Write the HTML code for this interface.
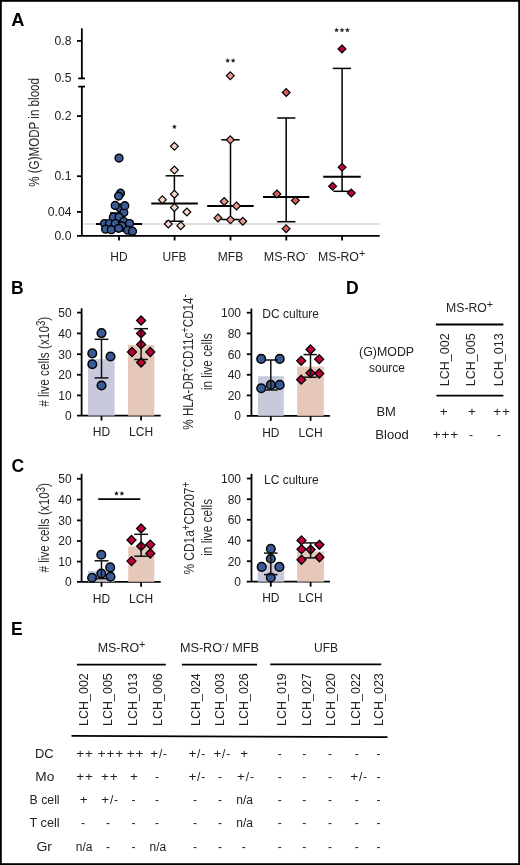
<!DOCTYPE html>
<html><head><meta charset="utf-8"><style>
html,body{margin:0;padding:0;background:#fff;}
body{width:520px;height:865px;overflow:hidden;}
svg{display:block;font-family:"Liberation Sans", sans-serif;will-change:transform;}
</style></head><body>
<svg width="520" height="865" viewBox="0 0 520 865">
<rect x="0" y="0" width="520" height="865" fill="#fff"/>
<text x="11.2" y="25.9" font-size="17.5" text-anchor="start" font-weight="bold" fill="#000"  textLength="13.2" lengthAdjust="spacingAndGlyphs">A</text>
<line x1="81.85" y1="28.3" x2="81.85" y2="78.4" stroke="#000" stroke-width="1.8" stroke-linecap="butt"/>
<line x1="81.85" y1="86.6" x2="81.85" y2="235.85" stroke="#000" stroke-width="1.8" stroke-linecap="butt"/>
<line x1="78.2" y1="78.4" x2="85" y2="78.4" stroke="#000" stroke-width="1.8" stroke-linecap="butt"/>
<line x1="78.2" y1="86.6" x2="85" y2="86.6" stroke="#000" stroke-width="1.8" stroke-linecap="butt"/>
<line x1="77" y1="40.9" x2="81.85" y2="40.9" stroke="#000" stroke-width="1.8" stroke-linecap="butt"/>
<line x1="77" y1="116.1" x2="81.85" y2="116.1" stroke="#000" stroke-width="1.8" stroke-linecap="butt"/>
<line x1="77" y1="176.2" x2="81.85" y2="176.2" stroke="#000" stroke-width="1.8" stroke-linecap="butt"/>
<line x1="77" y1="211.9" x2="81.85" y2="211.9" stroke="#000" stroke-width="1.8" stroke-linecap="butt"/>
<line x1="77" y1="235.85" x2="379.7" y2="235.85" stroke="#000" stroke-width="1.8" stroke-linecap="butt"/>
<line x1="119" y1="235.85" x2="119" y2="240.5" stroke="#000" stroke-width="1.8" stroke-linecap="butt"/>
<line x1="174.6" y1="235.85" x2="174.6" y2="240.5" stroke="#000" stroke-width="1.8" stroke-linecap="butt"/>
<line x1="230.5" y1="235.85" x2="230.5" y2="240.5" stroke="#000" stroke-width="1.8" stroke-linecap="butt"/>
<line x1="286.3" y1="235.85" x2="286.3" y2="240.5" stroke="#000" stroke-width="1.8" stroke-linecap="butt"/>
<line x1="342.1" y1="235.85" x2="342.1" y2="240.5" stroke="#000" stroke-width="1.8" stroke-linecap="butt"/>
<text x="71.5" y="44.8" font-size="12.2" text-anchor="end" font-weight="normal" fill="#222" >0.8</text>
<text x="71.5" y="82.3" font-size="12.2" text-anchor="end" font-weight="normal" fill="#222" >0.5</text>
<text x="71.5" y="120.2" font-size="12.2" text-anchor="end" font-weight="normal" fill="#222" >0.2</text>
<text x="71.5" y="180.3" font-size="12.2" text-anchor="end" font-weight="normal" fill="#222" >0.1</text>
<text x="71.5" y="216.0" font-size="12.2" text-anchor="end" font-weight="normal" fill="#222" >0.04</text>
<text x="71.5" y="239.9" font-size="12.2" text-anchor="end" font-weight="normal" fill="#222" >0.0</text>
<text transform="translate(39,132.4) rotate(-90)" x="0" y="0" font-size="15.5" text-anchor="middle" fill="#2a2a2a" textLength="108.8" lengthAdjust="spacingAndGlyphs">% (G)MODP in blood</text>
<text x="119" y="261" font-size="12" text-anchor="middle" font-weight="normal" fill="#222" >HD</text>
<text x="174.6" y="261" font-size="12" text-anchor="middle" font-weight="normal" fill="#222" >UFB</text>
<text x="230.5" y="261" font-size="12" text-anchor="middle" font-weight="normal" fill="#222" >MFB</text>
<text x="263.8" y="261" font-size="12" text-anchor="start" font-weight="normal" fill="#222"  textLength="44.5" lengthAdjust="spacingAndGlyphs">MS-RO<tspan font-size="8.5" baseline-shift="5">-</tspan></text>
<text x="318" y="261" font-size="12" text-anchor="start" font-weight="normal" fill="#222"  textLength="47.2" lengthAdjust="spacingAndGlyphs">MS-RO<tspan font-size="10.5" baseline-shift="4.3">+</tspan></text>
<line x1="83.8" y1="223.95" x2="379.7" y2="223.95" stroke="#dedede" stroke-width="2" stroke-linecap="butt"/>
<line x1="119" y1="213" x2="119" y2="231" stroke="#000" stroke-width="1.8" stroke-linecap="butt"/>
<line x1="110" y1="213" x2="128" y2="213" stroke="#000" stroke-width="1.6" stroke-linecap="butt"/>
<line x1="110" y1="231" x2="128" y2="231" stroke="#000" stroke-width="1.6" stroke-linecap="butt"/>
<line x1="96" y1="223.9" x2="142.1" y2="223.9" stroke="#000" stroke-width="2" stroke-linecap="butt"/>
<circle cx="119" cy="158.1" r="3.9" fill="#3a5a96" stroke="#000" stroke-width="1.45"/>
<circle cx="120.5" cy="193.2" r="3.9" fill="#3a5a96" stroke="#000" stroke-width="1.45"/>
<circle cx="118.6" cy="196.1" r="3.9" fill="#3a5a96" stroke="#000" stroke-width="1.45"/>
<circle cx="119.8" cy="207.8" r="3.9" fill="#3a5a96" stroke="#000" stroke-width="1.45"/>
<circle cx="123.8" cy="212.4" r="3.9" fill="#3a5a96" stroke="#000" stroke-width="1.45"/>
<circle cx="115.2" cy="205.4" r="3.9" fill="#3a5a96" stroke="#000" stroke-width="1.45"/>
<circle cx="124.8" cy="205.7" r="3.9" fill="#3a5a96" stroke="#000" stroke-width="1.45"/>
<circle cx="113.3" cy="217.2" r="3.9" fill="#3a5a96" stroke="#000" stroke-width="1.45"/>
<circle cx="119" cy="217.2" r="3.9" fill="#3a5a96" stroke="#000" stroke-width="1.45"/>
<circle cx="123.8" cy="221.5" r="3.9" fill="#3a5a96" stroke="#000" stroke-width="1.45"/>
<circle cx="104.6" cy="223.5" r="3.9" fill="#3a5a96" stroke="#000" stroke-width="1.45"/>
<circle cx="109.4" cy="223.5" r="3.9" fill="#3a5a96" stroke="#000" stroke-width="1.45"/>
<circle cx="115.2" cy="223.5" r="3.9" fill="#3a5a96" stroke="#000" stroke-width="1.45"/>
<circle cx="129.6" cy="223.5" r="3.9" fill="#3a5a96" stroke="#000" stroke-width="1.45"/>
<circle cx="121.9" cy="225.9" r="3.9" fill="#3a5a96" stroke="#000" stroke-width="1.45"/>
<circle cx="105.6" cy="229.2" r="3.9" fill="#3a5a96" stroke="#000" stroke-width="1.45"/>
<circle cx="111.3" cy="229.7" r="3.9" fill="#3a5a96" stroke="#000" stroke-width="1.45"/>
<circle cx="118.6" cy="228.3" r="3.9" fill="#3a5a96" stroke="#000" stroke-width="1.45"/>
<circle cx="127.7" cy="230.2" r="3.9" fill="#3a5a96" stroke="#000" stroke-width="1.45"/>
<circle cx="132.5" cy="231.2" r="3.9" fill="#3a5a96" stroke="#000" stroke-width="1.45"/>
<line x1="174.4" y1="175.8" x2="174.4" y2="221.25" stroke="#000" stroke-width="1.5" stroke-linecap="butt"/>
<line x1="165.6" y1="175.8" x2="183.6" y2="175.8" stroke="#000" stroke-width="1.5" stroke-linecap="butt"/>
<line x1="165.6" y1="221.25" x2="183.6" y2="221.25" stroke="#000" stroke-width="1.5" stroke-linecap="butt"/>
<line x1="151.25" y1="203.5" x2="197.8" y2="203.5" stroke="#000" stroke-width="2" stroke-linecap="butt"/>
<polygon points="174.4,142.4 178.3,146.3 174.4,150.20000000000002 170.5,146.3" fill="#f6d5ca" stroke="#000" stroke-width="1.2" stroke-linejoin="miter"/>
<polygon points="174.4,166.2 178.3,170.1 174.4,174.0 170.5,170.1" fill="#f6d5ca" stroke="#000" stroke-width="1.2" stroke-linejoin="miter"/>
<polygon points="174.4,190.29999999999998 178.3,194.2 174.4,198.1 170.5,194.2" fill="#f6d5ca" stroke="#000" stroke-width="1.2" stroke-linejoin="miter"/>
<polygon points="162.4,195.79999999999998 166.3,199.7 162.4,203.6 158.5,199.7" fill="#f6d5ca" stroke="#000" stroke-width="1.2" stroke-linejoin="miter"/>
<polygon points="174.4,203.5 178.3,207.4 174.4,211.3 170.5,207.4" fill="#f6d5ca" stroke="#000" stroke-width="1.2" stroke-linejoin="miter"/>
<polygon points="186.9,208.1 190.8,212 186.9,215.9 183.0,212" fill="#f6d5ca" stroke="#000" stroke-width="1.2" stroke-linejoin="miter"/>
<polygon points="168.3,220.1 172.20000000000002,224 168.3,227.9 164.4,224" fill="#f6d5ca" stroke="#000" stroke-width="1.2" stroke-linejoin="miter"/>
<polygon points="180.8,221.79999999999998 184.70000000000002,225.7 180.8,229.6 176.9,225.7" fill="#f6d5ca" stroke="#000" stroke-width="1.2" stroke-linejoin="miter"/>
<polygon points="174.40,124.20 175.09,125.85 176.87,126.00 175.51,127.16 175.93,128.90 174.40,127.97 172.87,128.90 173.29,127.16 171.93,126.00 173.71,125.85" fill="#222"/>
<line x1="230.5" y1="139.8" x2="230.5" y2="219.5" stroke="#000" stroke-width="1.5" stroke-linecap="butt"/>
<line x1="221.25" y1="139.8" x2="239.6" y2="139.8" stroke="#000" stroke-width="1.5" stroke-linecap="butt"/>
<line x1="221.3" y1="219.5" x2="239.6" y2="219.5" stroke="#000" stroke-width="1.5" stroke-linecap="butt"/>
<line x1="207.2" y1="205.9" x2="253.7" y2="205.9" stroke="#000" stroke-width="2" stroke-linecap="butt"/>
<polygon points="230.3,71.89999999999999 234.20000000000002,75.8 230.3,79.7 226.4,75.8" fill="#e59a8c" stroke="#000" stroke-width="1.2" stroke-linejoin="miter"/>
<polygon points="230.3,135.9 234.20000000000002,139.8 230.3,143.70000000000002 226.4,139.8" fill="#e59a8c" stroke="#000" stroke-width="1.2" stroke-linejoin="miter"/>
<polygon points="224.2,197.6 228.1,201.5 224.2,205.4 220.29999999999998,201.5" fill="#e59a8c" stroke="#000" stroke-width="1.2" stroke-linejoin="miter"/>
<polygon points="236.5,202.0 240.4,205.9 236.5,209.8 232.6,205.9" fill="#e59a8c" stroke="#000" stroke-width="1.2" stroke-linejoin="miter"/>
<polygon points="218,214.0 221.9,217.9 218,221.8 214.1,217.9" fill="#e59a8c" stroke="#000" stroke-width="1.2" stroke-linejoin="miter"/>
<polygon points="230.5,215.9 234.4,219.8 230.5,223.70000000000002 226.6,219.8" fill="#e59a8c" stroke="#000" stroke-width="1.2" stroke-linejoin="miter"/>
<polygon points="242.8,217.35 246.70000000000002,221.25 242.8,225.15 238.9,221.25" fill="#e59a8c" stroke="#000" stroke-width="1.2" stroke-linejoin="miter"/>
<polygon points="227.70,58.00 228.39,59.65 230.17,59.80 228.81,60.96 229.23,62.70 227.70,61.77 226.17,62.70 226.59,60.96 225.23,59.80 227.01,59.65" fill="#222"/>
<polygon points="233.10,58.00 233.79,59.65 235.57,59.80 234.21,60.96 234.63,62.70 233.10,61.77 231.57,62.70 231.99,60.96 230.63,59.80 232.41,59.65" fill="#222"/>
<line x1="286.2" y1="118" x2="286.2" y2="221.7" stroke="#000" stroke-width="1.5" stroke-linecap="butt"/>
<line x1="277.2" y1="118" x2="295.4" y2="118" stroke="#000" stroke-width="1.5" stroke-linecap="butt"/>
<line x1="277.2" y1="221.7" x2="295.4" y2="221.7" stroke="#000" stroke-width="1.5" stroke-linecap="butt"/>
<line x1="263" y1="197" x2="309.3" y2="197" stroke="#000" stroke-width="2" stroke-linecap="butt"/>
<polygon points="286.2,88.6 290.09999999999997,92.5 286.2,96.4 282.3,92.5" fill="#d4605e" stroke="#000" stroke-width="1.2" stroke-linejoin="miter"/>
<polygon points="276.9,190.0 280.79999999999995,193.9 276.9,197.8 273.0,193.9" fill="#d4605e" stroke="#000" stroke-width="1.2" stroke-linejoin="miter"/>
<polygon points="295.4,196.5 299.29999999999995,200.4 295.4,204.3 291.5,200.4" fill="#d4605e" stroke="#000" stroke-width="1.2" stroke-linejoin="miter"/>
<polygon points="286.1,224.79999999999998 290.0,228.7 286.1,232.6 282.20000000000005,228.7" fill="#d4605e" stroke="#000" stroke-width="1.2" stroke-linejoin="miter"/>
<line x1="342.1" y1="68.4" x2="342.1" y2="191.3" stroke="#000" stroke-width="1.5" stroke-linecap="butt"/>
<line x1="332.8" y1="68.4" x2="351" y2="68.4" stroke="#000" stroke-width="1.5" stroke-linecap="butt"/>
<line x1="333.3" y1="191.3" x2="351" y2="191.3" stroke="#000" stroke-width="1.5" stroke-linecap="butt"/>
<line x1="323.2" y1="176.7" x2="360.7" y2="176.7" stroke="#000" stroke-width="2" stroke-linecap="butt"/>
<polygon points="342,45.0 345.9,48.9 342,52.8 338.1,48.9" fill="#c0003a" stroke="#000" stroke-width="1.2" stroke-linejoin="miter"/>
<polygon points="342.1,163.4 346.0,167.3 342.1,171.20000000000002 338.20000000000005,167.3" fill="#c0003a" stroke="#000" stroke-width="1.2" stroke-linejoin="miter"/>
<polygon points="332.6,182.35 336.5,186.25 332.6,190.15 328.70000000000005,186.25" fill="#c0003a" stroke="#000" stroke-width="1.2" stroke-linejoin="miter"/>
<polygon points="351.3,189.1 355.2,193 351.3,196.9 347.40000000000003,193" fill="#c0003a" stroke="#000" stroke-width="1.2" stroke-linejoin="miter"/>
<polygon points="336.60,27.50 337.29,29.15 339.07,29.30 337.71,30.46 338.13,32.20 336.60,31.27 335.07,32.20 335.49,30.46 334.13,29.30 335.91,29.15" fill="#222"/>
<polygon points="342.00,27.50 342.69,29.15 344.47,29.30 343.11,30.46 343.53,32.20 342.00,31.27 340.47,32.20 340.89,30.46 339.53,29.30 341.31,29.15" fill="#222"/>
<polygon points="347.40,27.50 348.09,29.15 349.87,29.30 348.51,30.46 348.93,32.20 347.40,31.27 345.87,32.20 346.29,30.46 344.93,29.30 346.71,29.15" fill="#222"/>
<text x="11" y="293.9" font-size="17.5" text-anchor="start" font-weight="bold" fill="#000" >B</text>
<text x="11.5" y="472.3" font-size="17.5" text-anchor="start" font-weight="bold" fill="#000" >C</text>
<text x="346" y="293.7" font-size="17.5" text-anchor="start" font-weight="bold" fill="#000" >D</text>
<text x="11" y="635.2" font-size="17.5" text-anchor="start" font-weight="bold" fill="#000" >E</text>
<line x1="81.6" y1="308.3" x2="81.6" y2="415.6" stroke="#000" stroke-width="1.8" stroke-linecap="butt"/>
<line x1="77" y1="415.6" x2="160.7" y2="415.6" stroke="#000" stroke-width="1.8" stroke-linecap="butt"/>
<line x1="77.0" y1="312.6" x2="81.6" y2="312.6" stroke="#000" stroke-width="1.8" stroke-linecap="butt"/>
<text x="71.7" y="316.90000000000003" font-size="12" text-anchor="end" font-weight="normal" fill="#222" >50</text>
<line x1="77.0" y1="333.4" x2="81.6" y2="333.4" stroke="#000" stroke-width="1.8" stroke-linecap="butt"/>
<text x="71.7" y="337.7" font-size="12" text-anchor="end" font-weight="normal" fill="#222" >40</text>
<line x1="77.0" y1="354.2" x2="81.6" y2="354.2" stroke="#000" stroke-width="1.8" stroke-linecap="butt"/>
<text x="71.7" y="358.5" font-size="12" text-anchor="end" font-weight="normal" fill="#222" >30</text>
<line x1="77.0" y1="374.8" x2="81.6" y2="374.8" stroke="#000" stroke-width="1.8" stroke-linecap="butt"/>
<text x="71.7" y="379.1" font-size="12" text-anchor="end" font-weight="normal" fill="#222" >20</text>
<line x1="77.0" y1="395.4" x2="81.6" y2="395.4" stroke="#000" stroke-width="1.8" stroke-linecap="butt"/>
<text x="71.7" y="399.7" font-size="12" text-anchor="end" font-weight="normal" fill="#222" >10</text>
<text x="71.7" y="419.90000000000003" font-size="12" text-anchor="end" font-weight="normal" fill="#222" >0</text>
<line x1="101.5" y1="415.6" x2="101.5" y2="420.6" stroke="#000" stroke-width="1.8" stroke-linecap="butt"/>
<line x1="141.1" y1="415.6" x2="141.1" y2="420.6" stroke="#000" stroke-width="1.8" stroke-linecap="butt"/>
<text x="101.5" y="436.3" font-size="12" text-anchor="middle" font-weight="normal" fill="#222" >HD</text>
<text x="141.1" y="436.3" font-size="12" text-anchor="middle" font-weight="normal" fill="#222" >LCH</text>
<rect x="88" y="359.2" width="26.599999999999994" height="56.400000000000034" fill="#c8cadc"/>
<rect x="128" y="345" width="26.30000000000001" height="70.60000000000002" fill="#e6c8bb"/>
<circle cx="101.5" cy="333.1" r="4.3" fill="#3a5a96" stroke="#000" stroke-width="1.5"/>
<circle cx="92.3" cy="353.4" r="4.3" fill="#3a5a96" stroke="#000" stroke-width="1.5"/>
<circle cx="110.5" cy="356.5" r="4.3" fill="#3a5a96" stroke="#000" stroke-width="1.5"/>
<circle cx="92.3" cy="364.3" r="4.3" fill="#3a5a96" stroke="#000" stroke-width="1.5"/>
<circle cx="101.5" cy="385.5" r="4.3" fill="#3a5a96" stroke="#000" stroke-width="1.5"/>
<polygon points="141.1,316.0 145.6,320.5 141.1,325.0 136.6,320.5" fill="#c0003a" stroke="#000" stroke-width="1.3" stroke-linejoin="miter"/>
<polygon points="141.1,328.9 145.6,333.4 141.1,337.9 136.6,333.4" fill="#c0003a" stroke="#000" stroke-width="1.3" stroke-linejoin="miter"/>
<polygon points="141.1,339.9 145.6,344.4 141.1,348.9 136.6,344.4" fill="#c0003a" stroke="#000" stroke-width="1.3" stroke-linejoin="miter"/>
<polygon points="132,347.5 136.5,352 132,356.5 127.5,352" fill="#c0003a" stroke="#000" stroke-width="1.3" stroke-linejoin="miter"/>
<polygon points="150.3,347.5 154.8,352 150.3,356.5 145.8,352" fill="#c0003a" stroke="#000" stroke-width="1.3" stroke-linejoin="miter"/>
<polygon points="141.1,358.0 145.6,362.5 141.1,367.0 136.6,362.5" fill="#c0003a" stroke="#000" stroke-width="1.3" stroke-linejoin="miter"/>
<line x1="101.5" y1="339.3" x2="101.5" y2="377.9" stroke="#111" stroke-width="1.5" stroke-linecap="butt"/>
<line x1="94.6" y1="339.3" x2="108.4" y2="339.3" stroke="#111" stroke-width="1.5" stroke-linecap="butt"/>
<line x1="94.6" y1="377.9" x2="108.4" y2="377.9" stroke="#111" stroke-width="1.5" stroke-linecap="butt"/>
<line x1="141.1" y1="328.7" x2="141.1" y2="359.5" stroke="#111" stroke-width="1.5" stroke-linecap="butt"/>
<line x1="134.2" y1="328.7" x2="148" y2="328.7" stroke="#111" stroke-width="1.5" stroke-linecap="butt"/>
<line x1="134.2" y1="359.5" x2="148" y2="359.5" stroke="#111" stroke-width="1.5" stroke-linecap="butt"/>
<text transform="translate(49.2,361.8) rotate(-90)" x="0" y="0" font-size="15.5" text-anchor="middle" fill="#2a2a2a" textLength="90" lengthAdjust="spacingAndGlyphs"># live cells (x10<tspan font-size="12.5" baseline-shift="4.5">3</tspan>)</text>
<line x1="251.4" y1="308.5" x2="251.4" y2="415.8" stroke="#000" stroke-width="1.8" stroke-linecap="butt"/>
<line x1="246.7" y1="415.8" x2="330" y2="415.8" stroke="#000" stroke-width="1.8" stroke-linecap="butt"/>
<line x1="246.8" y1="312.7" x2="251.4" y2="312.7" stroke="#000" stroke-width="1.8" stroke-linecap="butt"/>
<text x="241" y="317.0" font-size="12" text-anchor="end" font-weight="normal" fill="#222" >100</text>
<line x1="246.8" y1="333.4" x2="251.4" y2="333.4" stroke="#000" stroke-width="1.8" stroke-linecap="butt"/>
<text x="241" y="337.7" font-size="12" text-anchor="end" font-weight="normal" fill="#222" >80</text>
<line x1="246.8" y1="354.2" x2="251.4" y2="354.2" stroke="#000" stroke-width="1.8" stroke-linecap="butt"/>
<text x="241" y="358.5" font-size="12" text-anchor="end" font-weight="normal" fill="#222" >60</text>
<line x1="246.8" y1="374.8" x2="251.4" y2="374.8" stroke="#000" stroke-width="1.8" stroke-linecap="butt"/>
<text x="241" y="379.1" font-size="12" text-anchor="end" font-weight="normal" fill="#222" >40</text>
<line x1="246.8" y1="395.4" x2="251.4" y2="395.4" stroke="#000" stroke-width="1.8" stroke-linecap="butt"/>
<text x="241" y="399.7" font-size="12" text-anchor="end" font-weight="normal" fill="#222" >20</text>
<text x="241" y="420.1" font-size="12" text-anchor="end" font-weight="normal" fill="#222" >0</text>
<line x1="270.8" y1="415.8" x2="270.8" y2="420.8" stroke="#000" stroke-width="1.8" stroke-linecap="butt"/>
<line x1="310.6" y1="415.8" x2="310.6" y2="420.8" stroke="#000" stroke-width="1.8" stroke-linecap="butt"/>
<text x="270.8" y="436.5" font-size="12" text-anchor="middle" font-weight="normal" fill="#222" >HD</text>
<text x="310.6" y="436.5" font-size="12" text-anchor="middle" font-weight="normal" fill="#222" >LCH</text>
<rect x="258" y="376.2" width="25.80000000000001" height="39.60000000000002" fill="#c8cadc"/>
<rect x="297.2" y="366.6" width="26.600000000000023" height="49.19999999999999" fill="#e6c8bb"/>
<circle cx="261.2" cy="358.9" r="4.3" fill="#3a5a96" stroke="#000" stroke-width="1.5"/>
<circle cx="279.7" cy="358.9" r="4.3" fill="#3a5a96" stroke="#000" stroke-width="1.5"/>
<circle cx="261.2" cy="388.2" r="4.3" fill="#3a5a96" stroke="#000" stroke-width="1.5"/>
<circle cx="270.8" cy="384.9" r="4.3" fill="#3a5a96" stroke="#000" stroke-width="1.5"/>
<circle cx="279.7" cy="384.9" r="4.3" fill="#3a5a96" stroke="#000" stroke-width="1.5"/>
<polygon points="310.5,345.0 315.0,349.5 310.5,354.0 306.0,349.5" fill="#c0003a" stroke="#000" stroke-width="1.3" stroke-linejoin="miter"/>
<polygon points="301.2,356.3 305.7,360.8 301.2,365.3 296.7,360.8" fill="#c0003a" stroke="#000" stroke-width="1.3" stroke-linejoin="miter"/>
<polygon points="319.2,354.7 323.7,359.2 319.2,363.7 314.7,359.2" fill="#c0003a" stroke="#000" stroke-width="1.3" stroke-linejoin="miter"/>
<polygon points="310.5,368.6 315.0,373.1 310.5,377.6 306.0,373.1" fill="#c0003a" stroke="#000" stroke-width="1.3" stroke-linejoin="miter"/>
<polygon points="319.2,369.0 323.7,373.5 319.2,378.0 314.7,373.5" fill="#c0003a" stroke="#000" stroke-width="1.3" stroke-linejoin="miter"/>
<polygon points="301.2,375.2 305.7,379.7 301.2,384.2 296.7,379.7" fill="#c0003a" stroke="#000" stroke-width="1.3" stroke-linejoin="miter"/>
<line x1="270.8" y1="360" x2="270.8" y2="390" stroke="#111" stroke-width="1.5" stroke-linecap="butt"/>
<line x1="265.4" y1="360" x2="277.7" y2="360" stroke="#111" stroke-width="1.5" stroke-linecap="butt"/>
<line x1="265.4" y1="390" x2="277.7" y2="390" stroke="#111" stroke-width="1.5" stroke-linecap="butt"/>
<line x1="310.5" y1="354.6" x2="310.5" y2="377.2" stroke="#111" stroke-width="1.5" stroke-linecap="butt"/>
<line x1="303.5" y1="354.6" x2="316.9" y2="354.6" stroke="#111" stroke-width="1.5" stroke-linecap="butt"/>
<line x1="303.5" y1="377.2" x2="316.9" y2="377.2" stroke="#111" stroke-width="1.5" stroke-linecap="butt"/>
<text x="262.3" y="318" font-size="12" text-anchor="start" font-weight="normal" fill="#222" >DC culture</text>
<text transform="translate(193.4,362) rotate(-90)" x="0" y="0" font-size="15.5" text-anchor="middle" fill="#2a2a2a" textLength="135.3" lengthAdjust="spacingAndGlyphs">% HLA-DR<tspan font-size="12.5" baseline-shift="4.5">+</tspan>CD11c<tspan font-size="12.5" baseline-shift="4.5">+</tspan>CD14<tspan font-size="12.5" baseline-shift="4.5">-</tspan></text>
<text transform="translate(211.8,361.75) rotate(-90)" x="0" y="0" font-size="15.5" text-anchor="middle" fill="#2a2a2a" textLength="56.7" lengthAdjust="spacingAndGlyphs">in live cells</text>
<line x1="81.6" y1="473.8" x2="81.6" y2="581.8" stroke="#000" stroke-width="1.8" stroke-linecap="butt"/>
<line x1="77" y1="581.8" x2="160.7" y2="581.8" stroke="#000" stroke-width="1.8" stroke-linecap="butt"/>
<line x1="77.0" y1="478.8" x2="81.6" y2="478.8" stroke="#000" stroke-width="1.8" stroke-linecap="butt"/>
<text x="71.7" y="483.1" font-size="12" text-anchor="end" font-weight="normal" fill="#222" >50</text>
<line x1="77.0" y1="499.59999999999997" x2="81.6" y2="499.59999999999997" stroke="#000" stroke-width="1.8" stroke-linecap="butt"/>
<text x="71.7" y="503.9" font-size="12" text-anchor="end" font-weight="normal" fill="#222" >40</text>
<line x1="77.0" y1="520.4" x2="81.6" y2="520.4" stroke="#000" stroke-width="1.8" stroke-linecap="butt"/>
<text x="71.7" y="524.6999999999999" font-size="12" text-anchor="end" font-weight="normal" fill="#222" >30</text>
<line x1="77.0" y1="541.0" x2="81.6" y2="541.0" stroke="#000" stroke-width="1.8" stroke-linecap="butt"/>
<text x="71.7" y="545.3" font-size="12" text-anchor="end" font-weight="normal" fill="#222" >20</text>
<line x1="77.0" y1="561.5999999999999" x2="81.6" y2="561.5999999999999" stroke="#000" stroke-width="1.8" stroke-linecap="butt"/>
<text x="71.7" y="565.8999999999999" font-size="12" text-anchor="end" font-weight="normal" fill="#222" >10</text>
<text x="71.7" y="586.0999999999999" font-size="12" text-anchor="end" font-weight="normal" fill="#222" >0</text>
<line x1="101.5" y1="581.8" x2="101.5" y2="586.8" stroke="#000" stroke-width="1.8" stroke-linecap="butt"/>
<line x1="141.1" y1="581.8" x2="141.1" y2="586.8" stroke="#000" stroke-width="1.8" stroke-linecap="butt"/>
<text x="101.5" y="602.5" font-size="12" text-anchor="middle" font-weight="normal" fill="#222" >HD</text>
<text x="141.1" y="602.5" font-size="12" text-anchor="middle" font-weight="normal" fill="#222" >LCH</text>
<rect x="88" y="570.8" width="26.599999999999994" height="11.0" fill="#c8cadc"/>
<rect x="128.2" y="546.5" width="26.100000000000023" height="35.299999999999955" fill="#e6c8bb"/>
<circle cx="101.3" cy="554.7" r="4.3" fill="#3a5a96" stroke="#000" stroke-width="1.5"/>
<circle cx="110.2" cy="567.4" r="4.3" fill="#3a5a96" stroke="#000" stroke-width="1.5"/>
<circle cx="101.3" cy="573.6" r="4.3" fill="#3a5a96" stroke="#000" stroke-width="1.5"/>
<circle cx="92.1" cy="577.7" r="4.3" fill="#3a5a96" stroke="#000" stroke-width="1.5"/>
<circle cx="110.5" cy="576.8" r="4.3" fill="#3a5a96" stroke="#000" stroke-width="1.5"/>
<polygon points="141.1,524.0 145.6,528.5 141.1,533.0 136.6,528.5" fill="#c0003a" stroke="#000" stroke-width="1.3" stroke-linejoin="miter"/>
<polygon points="131.5,535.5 136.0,540 131.5,544.5 127.0,540" fill="#c0003a" stroke="#000" stroke-width="1.3" stroke-linejoin="miter"/>
<polygon points="141.1,541.7 145.6,546.2 141.1,550.7 136.6,546.2" fill="#c0003a" stroke="#000" stroke-width="1.3" stroke-linejoin="miter"/>
<polygon points="150.3,540.1 154.8,544.6 150.3,549.1 145.8,544.6" fill="#c0003a" stroke="#000" stroke-width="1.3" stroke-linejoin="miter"/>
<polygon points="150.3,549.0 154.8,553.5 150.3,558.0 145.8,553.5" fill="#c0003a" stroke="#000" stroke-width="1.3" stroke-linejoin="miter"/>
<polygon points="131.5,556.6 136.0,561.1 131.5,565.6 127.0,561.1" fill="#c0003a" stroke="#000" stroke-width="1.3" stroke-linejoin="miter"/>
<line x1="101.5" y1="560.8" x2="101.5" y2="578.6" stroke="#111" stroke-width="1.5" stroke-linecap="butt"/>
<line x1="94.6" y1="560.8" x2="108.5" y2="560.8" stroke="#111" stroke-width="1.5" stroke-linecap="butt"/>
<line x1="94.6" y1="578.6" x2="108.5" y2="578.6" stroke="#111" stroke-width="1.5" stroke-linecap="butt"/>
<line x1="141.1" y1="534.3" x2="141.1" y2="556.2" stroke="#111" stroke-width="1.5" stroke-linecap="butt"/>
<line x1="134.2" y1="534.3" x2="148" y2="534.3" stroke="#111" stroke-width="1.5" stroke-linecap="butt"/>
<line x1="134.2" y1="556.2" x2="148" y2="556.2" stroke="#111" stroke-width="1.5" stroke-linecap="butt"/>
<line x1="98.2" y1="499.2" x2="140.3" y2="499.2" stroke="#000" stroke-width="1.8" stroke-linecap="butt"/>
<polygon points="116.50,490.90 117.19,492.55 118.97,492.70 117.61,493.86 118.03,495.60 116.50,494.67 114.97,495.60 115.39,493.86 114.03,492.70 115.81,492.55" fill="#222"/>
<polygon points="121.90,490.90 122.59,492.55 124.37,492.70 123.01,493.86 123.43,495.60 121.90,494.67 120.37,495.60 120.79,493.86 119.43,492.70 121.21,492.55" fill="#222"/>
<text transform="translate(49.2,527.8) rotate(-90)" x="0" y="0" font-size="15.5" text-anchor="middle" fill="#2a2a2a" textLength="89.5" lengthAdjust="spacingAndGlyphs"># live cells (x10<tspan font-size="12.5" baseline-shift="4.5">3</tspan>)</text>
<line x1="251.5" y1="473.8" x2="251.5" y2="581.7" stroke="#000" stroke-width="1.8" stroke-linecap="butt"/>
<line x1="246.7" y1="581.7" x2="330" y2="581.7" stroke="#000" stroke-width="1.8" stroke-linecap="butt"/>
<line x1="246.9" y1="478.5" x2="251.5" y2="478.5" stroke="#000" stroke-width="1.8" stroke-linecap="butt"/>
<text x="241" y="482.8" font-size="12" text-anchor="end" font-weight="normal" fill="#222" >100</text>
<line x1="246.9" y1="499.2" x2="251.5" y2="499.2" stroke="#000" stroke-width="1.8" stroke-linecap="butt"/>
<text x="241" y="503.5" font-size="12" text-anchor="end" font-weight="normal" fill="#222" >80</text>
<line x1="246.9" y1="519.8" x2="251.5" y2="519.8" stroke="#000" stroke-width="1.8" stroke-linecap="butt"/>
<text x="241" y="524.0999999999999" font-size="12" text-anchor="end" font-weight="normal" fill="#222" >60</text>
<line x1="246.9" y1="540.6" x2="251.5" y2="540.6" stroke="#000" stroke-width="1.8" stroke-linecap="butt"/>
<text x="241" y="544.9" font-size="12" text-anchor="end" font-weight="normal" fill="#222" >40</text>
<line x1="246.9" y1="561.2" x2="251.5" y2="561.2" stroke="#000" stroke-width="1.8" stroke-linecap="butt"/>
<text x="241" y="565.5" font-size="12" text-anchor="end" font-weight="normal" fill="#222" >20</text>
<text x="241" y="586.0" font-size="12" text-anchor="end" font-weight="normal" fill="#222" >0</text>
<line x1="270.8" y1="581.7" x2="270.8" y2="586.7" stroke="#000" stroke-width="1.8" stroke-linecap="butt"/>
<line x1="310.6" y1="581.7" x2="310.6" y2="586.7" stroke="#000" stroke-width="1.8" stroke-linecap="butt"/>
<text x="270.8" y="602.4000000000001" font-size="12" text-anchor="middle" font-weight="normal" fill="#222" >HD</text>
<text x="310.6" y="602.4000000000001" font-size="12" text-anchor="middle" font-weight="normal" fill="#222" >LCH</text>
<rect x="257.7" y="564" width="26.5" height="17.700000000000045" fill="#c8cadc"/>
<rect x="297.1" y="551.5" width="26.899999999999977" height="30.200000000000045" fill="#e6c8bb"/>
<circle cx="270.8" cy="548.7" r="4.3" fill="#3a5a96" stroke="#000" stroke-width="1.5"/>
<circle cx="270.8" cy="558.8" r="4.3" fill="#3a5a96" stroke="#000" stroke-width="1.5"/>
<circle cx="261.7" cy="566.9" r="4.3" fill="#3a5a96" stroke="#000" stroke-width="1.5"/>
<circle cx="279.4" cy="566.9" r="4.3" fill="#3a5a96" stroke="#000" stroke-width="1.5"/>
<circle cx="270.8" cy="577.5" r="4.3" fill="#3a5a96" stroke="#000" stroke-width="1.5"/>
<polygon points="301.5,535.9 306.0,540.4 301.5,544.9 297.0,540.4" fill="#c0003a" stroke="#000" stroke-width="1.3" stroke-linejoin="miter"/>
<polygon points="319.4,540.3 323.9,544.8 319.4,549.3 314.9,544.8" fill="#c0003a" stroke="#000" stroke-width="1.3" stroke-linejoin="miter"/>
<polygon points="301.5,544.7 306.0,549.2 301.5,553.7 297.0,549.2" fill="#c0003a" stroke="#000" stroke-width="1.3" stroke-linejoin="miter"/>
<polygon points="310.6,545.1 315.1,549.6 310.6,554.1 306.1,549.6" fill="#c0003a" stroke="#000" stroke-width="1.3" stroke-linejoin="miter"/>
<polygon points="319.4,552.8 323.9,557.3 319.4,561.8 314.9,557.3" fill="#c0003a" stroke="#000" stroke-width="1.3" stroke-linejoin="miter"/>
<polygon points="301.5,555.3 306.0,559.8 301.5,564.3 297.0,559.8" fill="#c0003a" stroke="#000" stroke-width="1.3" stroke-linejoin="miter"/>
<line x1="270.8" y1="553.1" x2="270.8" y2="574.6" stroke="#111" stroke-width="1.5" stroke-linecap="butt"/>
<line x1="264" y1="553.1" x2="277.5" y2="553.1" stroke="#111" stroke-width="1.5" stroke-linecap="butt"/>
<line x1="264" y1="574.6" x2="277.5" y2="574.6" stroke="#111" stroke-width="1.5" stroke-linecap="butt"/>
<line x1="310.6" y1="542.9" x2="310.6" y2="557.9" stroke="#111" stroke-width="1.5" stroke-linecap="butt"/>
<line x1="303.5" y1="542.9" x2="317.9" y2="542.9" stroke="#111" stroke-width="1.5" stroke-linecap="butt"/>
<line x1="303.5" y1="557.9" x2="317.9" y2="557.9" stroke="#111" stroke-width="1.5" stroke-linecap="butt"/>
<text x="264" y="483.7" font-size="12" text-anchor="start" font-weight="normal" fill="#222" >LC culture</text>
<text transform="translate(193.5,528.25) rotate(-90)" x="0" y="0" font-size="15.5" text-anchor="middle" fill="#2a2a2a" textLength="92.7" lengthAdjust="spacingAndGlyphs">% CD1a<tspan font-size="12.5" baseline-shift="4.5">+</tspan>CD207<tspan font-size="12.5" baseline-shift="4.5">+</tspan></text>
<text transform="translate(211.8,527.35) rotate(-90)" x="0" y="0" font-size="15.5" text-anchor="middle" fill="#2a2a2a" textLength="56.9" lengthAdjust="spacingAndGlyphs">in live cells</text>
<text x="469.6" y="311.6" font-size="12" text-anchor="middle" font-weight="normal" fill="#222"  textLength="47" lengthAdjust="spacingAndGlyphs">MS-RO<tspan font-size="10.5" baseline-shift="4.3">+</tspan></text>
<line x1="435.9" y1="324.5" x2="503.4" y2="324.5" stroke="#000" stroke-width="1.8" stroke-linecap="butt"/>
<line x1="436.4" y1="395.6" x2="503.4" y2="395.6" stroke="#000" stroke-width="1.8" stroke-linecap="butt"/>
<text transform="translate(448.6,386.2) rotate(-90)" x="0" y="0" font-size="12.5" text-anchor="start" fill="#222">LCH_002</text>
<text transform="translate(475.2,386.2) rotate(-90)" x="0" y="0" font-size="12.5" text-anchor="start" fill="#222">LCH_005</text>
<text transform="translate(503.2,386.2) rotate(-90)" x="0" y="0" font-size="12.5" text-anchor="start" fill="#222">LCH_013</text>
<text x="386.6" y="356.2" font-size="12" text-anchor="middle" font-weight="normal" fill="#222"  textLength="55" lengthAdjust="spacingAndGlyphs">(G)MODP</text>
<text x="387" y="371.5" font-size="12" text-anchor="middle" font-weight="normal" fill="#222" >source</text>
<text x="376.4" y="415.8" font-size="12" text-anchor="start" font-weight="normal" fill="#222"  textLength="19.5" lengthAdjust="spacingAndGlyphs">BM</text>
<text x="375.3" y="438.8" font-size="12" text-anchor="start" font-weight="normal" fill="#222"  textLength="33.4" lengthAdjust="spacingAndGlyphs">Blood</text>
<text x="444.0" y="416" font-size="12" text-anchor="middle" fill="#222" letter-spacing="0.8"><tspan font-size="13.5">+</tspan></text>
<text x="472.29999999999995" y="416" font-size="12" text-anchor="middle" fill="#222" letter-spacing="0.8"><tspan font-size="13.5">+</tspan></text>
<text x="501.9" y="416" font-size="12" text-anchor="middle" fill="#222" letter-spacing="0.8"><tspan font-size="13.5">+</tspan><tspan font-size="13.5">+</tspan></text>
<text x="445.9" y="439.2" font-size="12" text-anchor="middle" fill="#222" letter-spacing="0.8"><tspan font-size="13.5">+</tspan><tspan font-size="13.5">+</tspan><tspan font-size="13.5">+</tspan></text>
<text x="471" y="439.2" font-size="12" text-anchor="middle" fill="#222">-</text>
<text x="499" y="439.2" font-size="12" text-anchor="middle" fill="#222">-</text>
<text x="121.6" y="652.3" font-size="12" text-anchor="middle" font-weight="normal" fill="#222"  textLength="47.6" lengthAdjust="spacingAndGlyphs">MS-RO<tspan font-size="10.5" baseline-shift="4.3">+</tspan></text>
<text x="219.4" y="652.3" font-size="12" text-anchor="middle" font-weight="normal" fill="#222"  textLength="79" lengthAdjust="spacingAndGlyphs">MS-RO<tspan font-size="8.5" baseline-shift="5">-</tspan>/ MFB</text>
<text x="326" y="652.3" font-size="12" text-anchor="middle" font-weight="normal" fill="#222" >UFB</text>
<line x1="76.9" y1="664.6" x2="165.8" y2="664.6" stroke="#000" stroke-width="1.8" stroke-linecap="butt"/>
<line x1="181.9" y1="664.6" x2="257" y2="664.6" stroke="#000" stroke-width="1.8" stroke-linecap="butt"/>
<line x1="270.2" y1="664.3" x2="381.2" y2="664.3" stroke="#000" stroke-width="1.8" stroke-linecap="butt"/>
<line x1="71.5" y1="735.8" x2="387.5" y2="737.2" stroke="#000" stroke-width="1.8" stroke-linecap="butt"/>
<text transform="translate(87.8,726) rotate(-90)" x="0" y="0" font-size="12.5" text-anchor="start" fill="#222">LCH_002</text>
<text transform="translate(112.1,726) rotate(-90)" x="0" y="0" font-size="12.5" text-anchor="start" fill="#222">LCH_005</text>
<text transform="translate(137.20000000000002,726) rotate(-90)" x="0" y="0" font-size="12.5" text-anchor="start" fill="#222">LCH_013</text>
<text transform="translate(161.70000000000002,726) rotate(-90)" x="0" y="0" font-size="12.5" text-anchor="start" fill="#222">LCH_006</text>
<text transform="translate(199.60000000000002,726) rotate(-90)" x="0" y="0" font-size="12.5" text-anchor="start" fill="#222">LCH_024</text>
<text transform="translate(223.8,726) rotate(-90)" x="0" y="0" font-size="12.5" text-anchor="start" fill="#222">LCH_003</text>
<text transform="translate(248.3,726) rotate(-90)" x="0" y="0" font-size="12.5" text-anchor="start" fill="#222">LCH_026</text>
<text transform="translate(286.3,726) rotate(-90)" x="0" y="0" font-size="12.5" text-anchor="start" fill="#222">LCH_019</text>
<text transform="translate(310.8,726) rotate(-90)" x="0" y="0" font-size="12.5" text-anchor="start" fill="#222">LCH_027</text>
<text transform="translate(334.6,726) rotate(-90)" x="0" y="0" font-size="12.5" text-anchor="start" fill="#222">LCH_020</text>
<text transform="translate(359.8,726) rotate(-90)" x="0" y="0" font-size="12.5" text-anchor="start" fill="#222">LCH_022</text>
<text transform="translate(382.8,726) rotate(-90)" x="0" y="0" font-size="12.5" text-anchor="start" fill="#222">LCH_023</text>
<text x="44.25" y="757.7" font-size="12" text-anchor="middle" font-weight="normal" fill="#222"  textLength="18.7" lengthAdjust="spacingAndGlyphs">DC</text>
<text x="44.8" y="781.2" font-size="12" text-anchor="middle" font-weight="normal" fill="#222"  textLength="19" lengthAdjust="spacingAndGlyphs">Mo</text>
<text x="44.6" y="803.8" font-size="12" text-anchor="middle" font-weight="normal" fill="#222"  textLength="30" lengthAdjust="spacingAndGlyphs">B cell</text>
<text x="44.6" y="826.9" font-size="12" text-anchor="middle" font-weight="normal" fill="#222"  textLength="30" lengthAdjust="spacingAndGlyphs">T cell</text>
<text x="44.2" y="850.5" font-size="12" text-anchor="middle" font-weight="normal" fill="#222"  textLength="15.6" lengthAdjust="spacingAndGlyphs">Gr</text>
<text x="85.0" y="757.7" font-size="12" text-anchor="middle" fill="#222" letter-spacing="0.8"><tspan font-size="13.5">+</tspan><tspan font-size="13.5">+</tspan></text>
<text x="110.80000000000001" y="757.7" font-size="12" text-anchor="middle" fill="#222" letter-spacing="0.8"><tspan font-size="13.5">+</tspan><tspan font-size="13.5">+</tspan><tspan font-size="13.5">+</tspan></text>
<text x="135.4" y="757.7" font-size="12" text-anchor="middle" fill="#222" letter-spacing="0.8"><tspan font-size="13.5">+</tspan><tspan font-size="13.5">+</tspan></text>
<text x="159.10000000000002" y="757.7" font-size="12" text-anchor="middle" fill="#222" letter-spacing="0.8"><tspan font-size="13.5">+</tspan>/-</text>
<text x="197.20000000000002" y="757.7" font-size="12" text-anchor="middle" fill="#222" letter-spacing="0.8"><tspan font-size="13.5">+</tspan>/-</text>
<text x="222.20000000000002" y="757.7" font-size="12" text-anchor="middle" fill="#222" letter-spacing="0.8"><tspan font-size="13.5">+</tspan>/-</text>
<text x="244.6" y="757.7" font-size="12" text-anchor="middle" fill="#222" letter-spacing="0.8"><tspan font-size="13.5">+</tspan></text>
<text x="279.7" y="757.7" font-size="12" text-anchor="middle" fill="#222">-</text>
<text x="304.2" y="757.7" font-size="12" text-anchor="middle" fill="#222">-</text>
<text x="330" y="757.7" font-size="12" text-anchor="middle" fill="#222">-</text>
<text x="356.8" y="757.7" font-size="12" text-anchor="middle" fill="#222">-</text>
<text x="378.5" y="757.7" font-size="12" text-anchor="middle" fill="#222">-</text>
<text x="85.0" y="781.2" font-size="12" text-anchor="middle" fill="#222" letter-spacing="0.8"><tspan font-size="13.5">+</tspan><tspan font-size="13.5">+</tspan></text>
<text x="109.80000000000001" y="781.2" font-size="12" text-anchor="middle" fill="#222" letter-spacing="0.8"><tspan font-size="13.5">+</tspan><tspan font-size="13.5">+</tspan></text>
<text x="134.4" y="781.2" font-size="12" text-anchor="middle" fill="#222" letter-spacing="0.8"><tspan font-size="13.5">+</tspan></text>
<text x="156.9" y="781.2" font-size="12" text-anchor="middle" fill="#222">-</text>
<text x="197.20000000000002" y="781.2" font-size="12" text-anchor="middle" fill="#222" letter-spacing="0.8"><tspan font-size="13.5">+</tspan>/-</text>
<text x="220" y="781.2" font-size="12" text-anchor="middle" fill="#222">-</text>
<text x="245.9" y="781.2" font-size="12" text-anchor="middle" fill="#222" letter-spacing="0.8"><tspan font-size="13.5">+</tspan>/-</text>
<text x="279.7" y="781.2" font-size="12" text-anchor="middle" fill="#222">-</text>
<text x="304.2" y="781.2" font-size="12" text-anchor="middle" fill="#222">-</text>
<text x="330" y="781.2" font-size="12" text-anchor="middle" fill="#222">-</text>
<text x="359.0" y="781.2" font-size="12" text-anchor="middle" fill="#222" letter-spacing="0.8"><tspan font-size="13.5">+</tspan>/-</text>
<text x="378.5" y="781.2" font-size="12" text-anchor="middle" fill="#222">-</text>
<text x="84.0" y="803.8" font-size="12" text-anchor="middle" fill="#222" letter-spacing="0.8"><tspan font-size="13.5">+</tspan></text>
<text x="110.10000000000001" y="803.8" font-size="12" text-anchor="middle" fill="#222" letter-spacing="0.8"><tspan font-size="13.5">+</tspan>/-</text>
<text x="133.5" y="803.8" font-size="12" text-anchor="middle" fill="#222">-</text>
<text x="156.9" y="803.8" font-size="12" text-anchor="middle" fill="#222">-</text>
<text x="195" y="803.8" font-size="12" text-anchor="middle" fill="#222">-</text>
<text x="220" y="803.8" font-size="12" text-anchor="middle" fill="#222">-</text>
<text x="244.7" y="803.8" font-size="12" text-anchor="middle" fill="#222">n/a</text>
<text x="279.7" y="803.8" font-size="12" text-anchor="middle" fill="#222">-</text>
<text x="304.2" y="803.8" font-size="12" text-anchor="middle" fill="#222">-</text>
<text x="330" y="803.8" font-size="12" text-anchor="middle" fill="#222">-</text>
<text x="356.8" y="803.8" font-size="12" text-anchor="middle" fill="#222">-</text>
<text x="378.5" y="803.8" font-size="12" text-anchor="middle" fill="#222">-</text>
<text x="83.1" y="826.9" font-size="12" text-anchor="middle" fill="#222">-</text>
<text x="107.9" y="826.9" font-size="12" text-anchor="middle" fill="#222">-</text>
<text x="133.5" y="826.9" font-size="12" text-anchor="middle" fill="#222">-</text>
<text x="156.9" y="826.9" font-size="12" text-anchor="middle" fill="#222">-</text>
<text x="195" y="826.9" font-size="12" text-anchor="middle" fill="#222">-</text>
<text x="220" y="826.9" font-size="12" text-anchor="middle" fill="#222">-</text>
<text x="244.7" y="826.9" font-size="12" text-anchor="middle" fill="#222">n/a</text>
<text x="279.7" y="826.9" font-size="12" text-anchor="middle" fill="#222">-</text>
<text x="304.2" y="826.9" font-size="12" text-anchor="middle" fill="#222">-</text>
<text x="330" y="826.9" font-size="12" text-anchor="middle" fill="#222">-</text>
<text x="356.8" y="826.9" font-size="12" text-anchor="middle" fill="#222">-</text>
<text x="378.5" y="826.9" font-size="12" text-anchor="middle" fill="#222">-</text>
<text x="84.1" y="850.5" font-size="12" text-anchor="middle" fill="#222">n/a</text>
<text x="107.9" y="850.5" font-size="12" text-anchor="middle" fill="#222">-</text>
<text x="133.5" y="850.5" font-size="12" text-anchor="middle" fill="#222">-</text>
<text x="157.9" y="850.5" font-size="12" text-anchor="middle" fill="#222">n/a</text>
<text x="195" y="850.5" font-size="12" text-anchor="middle" fill="#222">-</text>
<text x="220" y="850.5" font-size="12" text-anchor="middle" fill="#222">-</text>
<text x="243.7" y="850.5" font-size="12" text-anchor="middle" fill="#222">-</text>
<text x="279.7" y="850.5" font-size="12" text-anchor="middle" fill="#222">-</text>
<text x="304.2" y="850.5" font-size="12" text-anchor="middle" fill="#222">-</text>
<text x="330" y="850.5" font-size="12" text-anchor="middle" fill="#222">-</text>
<text x="356.8" y="850.5" font-size="12" text-anchor="middle" fill="#222">-</text>
<text x="378.5" y="850.5" font-size="12" text-anchor="middle" fill="#222">-</text>
<rect x="0.9" y="0.9" width="518.2" height="863.2" fill="none" stroke="#000" stroke-width="1.8"/>
</svg>
</body></html>
